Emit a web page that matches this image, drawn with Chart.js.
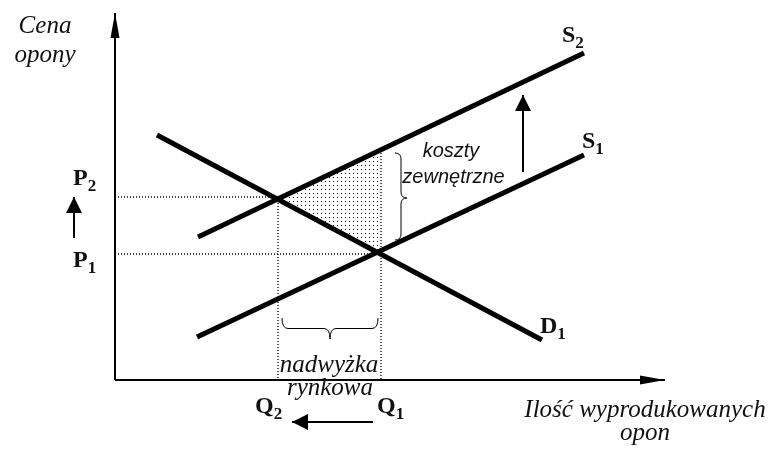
<!DOCTYPE html>
<html lang="pl">
<head>
<meta charset="utf-8">
<title>Koszty zewnętrzne – rynek opon</title>
<script src="https://cdn.jsdelivr.net/npm/chart.js@4/dist/chart.umd.min.js"></script>
<style>
  html, body { margin: 0; padding: 0; background: #fff; }
  #wrap { width: 771px; height: 450px; }
</style>
</head>
<body>
<div id="wrap"><canvas id="chart" width="771" height="450"></canvas></div>
<script>
// Curves (x = ilość opon, y = cena opony), end points
const demandD1 = [{ x: 4.2, y: 24.5 }, { x: 42.7, y: 4.0 }];
const supplyS1 = [{ x: 8.2, y: 4.3 }, { x: 46.9, y: 22.5 }];
const supplyS2 = [{ x: 8.3, y: 14.3 }, { x: 46.9, y: 32.7 }];

// Equilibrium levels: [P1, P2] and [Q1, Q2]
const priceLevels = [12.6, 18.3];
const quantityLevels = [26.6, 16.3];
const s2AtQ1 = 23.0;

// Axis lines
const xAxisLine = [{ x: 0, y: 0 }, { x: 55, y: 0 }];
const yAxisLine = [{ x: 0, y: 0 }, { x: 0, y: 36.7 }];

// Shift arrows: P1 -> P2, S1 -> S2, Q1 -> Q2
const shiftArrows = [
    [{ x: -4.1, y: 14.2 }, { x: -4.1, y: 18.3 }],
    [{ x: 40.8, y: 20.8 }, { x: 40.8, y: 28.5 }],
    [{ x: 25.8, y: -4.2 }, { x: 17.7, y: -4.2 }]
];

// Braces: [start, end, tip]
const costBrace = [{ x: 28.0, y: 22.7 }, { x: 28.0, y: 14.0 }, { x: 29.2, y: 18.2 }];
const surplusBrace = [{ x: 16.7, y: 6.2 }, { x: 26.3, y: 6.2 }, { x: 21.5, y: 4.1 }];

// Text labels
const curveLabels = [
    { main: 'S', sub: '2', x: 44.7, y: 33.8 },
    { main: 'S', sub: '1', x: 46.7, y: 23.2 },
    { main: 'D', sub: '1', x: 42.5, y: 4.7 },
    { main: 'P', sub: '2', x: -4.2, y: 19.5 },
    { main: 'P', sub: '1', x: -4.2, y: 11.3 },
    { main: 'Q', sub: '2', x: 14.0, y: -3.3 },
    { main: 'Q', sub: '1', x: 26.2, y: -3.3 }
];
const axisTitles = [
    { text: 'Cena', x: -7.0, y: 34.7 },
    { text: 'opony', x: -7.0, y: 31.8 },
    { text: 'Ilość wyprodukowanych', x: 53.0, y: -3.7 },
    { text: 'opon', x: 53.0, y: -6.0 },
    { text: 'nadwyżka', x: 21.4, y: 0.8 },
    { text: 'rynkowa', x: 21.5, y: -1.5 }
];
const noteLines = [
    { text: 'koszty', x: 33.6, y: 22.3 },
    { text: 'zewnętrzne', x: 33.85, y: 19.7 }
];

const INK = '#000';

function dotPattern() {
    const c = document.createElement('canvas');
    c.width = 4;
    c.height = 4;
    const g = c.getContext('2d');
    g.fillStyle = '#000';
    g.fillRect(1, 1, 1, 1);
    return g.createPattern(c, 'repeat');
}

function lineSet(points, width, dash) {
    return {
        data: points,
        showLine: true,
        borderColor: INK,
        borderWidth: width,
        borderDash: dash || [],
        pointRadius: 0,
        fill: false,
        clip: false
    };
}

const [p1, p2] = priceLevels;
const [q1, q2] = quantityLevels;

const datasets = [
    // shaded area between S2, D1 and Q1
    {
        data: [{ x: q2, y: p2 }, { x: q1, y: s2AtQ1 }, { x: q1, y: p1 }, { x: q2, y: p2 }],
        showLine: true,
        borderWidth: 0,
        borderColor: 'rgba(0,0,0,0)',
        backgroundColor: dotPattern(),
        fill: 'shape',
        pointRadius: 0,
        order: 10
    },
    lineSet([{ x: 0, y: p2 }, { x: q2, y: p2 }], 1.3, [1, 2]),
    lineSet([{ x: 0, y: p1 }, { x: q1, y: p1 }], 1.3, [1, 2]),
    lineSet([{ x: q2, y: p2 }, { x: q2, y: 0 }], 1.3, [1, 2]),
    lineSet([{ x: q1, y: s2AtQ1 }, { x: q1, y: 0 }], 1.3, [1, 2]),
    lineSet(xAxisLine, 2),
    lineSet(yAxisLine, 2),
    lineSet(demandD1, 5),
    lineSet(supplyS1, 5),
    lineSet(supplyS2, 5),
    ...shiftArrows.map(a => lineSet(a, 2))
];

// Arrow heads, braces and texts
const decorPlugin = {
    id: 'decor',
    afterDatasetsDraw(chart) {
        const ctx = chart.ctx;
        const sx = chart.scales.x;
        const sy = chart.scales.y;
        const px = p => ({ x: sx.getPixelForValue(p.x), y: sy.getPixelForValue(p.y) });

        const head = (from, to, len, half) => {
            const a = px(from);
            const b = px(to);
            const ang = Math.atan2(b.y - a.y, b.x - a.x);
            ctx.save();
            ctx.translate(b.x, b.y);
            ctx.rotate(ang);
            ctx.beginPath();
            ctx.moveTo(0, 0);
            ctx.lineTo(-len, -half);
            ctx.lineTo(-len, half);
            ctx.closePath();
            ctx.fillStyle = INK;
            ctx.fill();
            ctx.restore();
        };

        head(xAxisLine[0], xAxisLine[1], 25, 4.5);
        head(yAxisLine[0], yAxisLine[1], 25, 4.5);
        shiftArrows.forEach(a => head(a[0], a[1], 16, 8));

        // curly braces
        ctx.save();
        ctx.strokeStyle = INK;
        ctx.lineWidth = 1;
        const r = 6;
        {
            const s = px(costBrace[0]), e = px(costBrace[1]), t = px(costBrace[2]);
            const xm = (s.x + t.x) / 2;
            ctx.beginPath();
            ctx.moveTo(s.x, s.y);
            ctx.quadraticCurveTo(xm, s.y, xm, s.y + r);
            ctx.lineTo(xm, t.y - r);
            ctx.quadraticCurveTo(xm, t.y, t.x, t.y);
            ctx.quadraticCurveTo(xm, t.y, xm, t.y + r);
            ctx.lineTo(xm, e.y - r);
            ctx.quadraticCurveTo(xm, e.y, s.x, e.y);
            ctx.stroke();
        }
        {
            const s = px(surplusBrace[0]), e = px(surplusBrace[1]), t = px(surplusBrace[2]);
            const ym = (s.y + t.y) / 2;
            ctx.beginPath();
            ctx.moveTo(s.x, s.y);
            ctx.quadraticCurveTo(s.x, ym, s.x + r, ym);
            ctx.lineTo(t.x - r, ym);
            ctx.quadraticCurveTo(t.x, ym, t.x, t.y);
            ctx.quadraticCurveTo(t.x, ym, t.x + r, ym);
            ctx.lineTo(e.x - r, ym);
            ctx.quadraticCurveTo(e.x, ym, e.x, e.y);
            ctx.stroke();
        }
        ctx.restore();

        // texts
        ctx.save();
        ctx.fillStyle = '#111';
        ctx.textBaseline = 'alphabetic';
        ctx.textAlign = 'left';
        curveLabels.forEach(l => {
            const p = px(l);
            ctx.font = 'bold 24px "Liberation Serif"';
            ctx.fillText(l.main, p.x, p.y);
            const w = ctx.measureText(l.main).width;
            ctx.font = 'bold 17px "Liberation Serif"';
            ctx.fillText(l.sub, p.x + w, p.y + 6);
        });
        ctx.textAlign = 'center';
        ctx.font = 'italic 25px "Liberation Serif"';
        axisTitles.forEach(l => {
            const p = px(l);
            ctx.fillText(l.text, p.x, p.y);
        });
        ctx.font = 'italic 20px "Liberation Sans"';
        noteLines.forEach(l => {
            const p = px(l);
            ctx.fillText(l.text, p.x, p.y);
        });
        ctx.restore();
    }
};

new Chart(document.getElementById('chart'), {
    type: 'scatter',
    data: { datasets },
    options: {
        responsive: false,
        animation: false,
        devicePixelRatio: 1,
        layout: { padding: 0 },
        elements: { line: { tension: 0, borderCapStyle: 'butt' } },
        plugins: {
            legend: { display: false },
            tooltip: { enabled: false }
        },
        scales: {
            x: { type: 'linear', min: -11.5, max: 65.6, display: false },
            y: { type: 'linear', min: -7, max: 38, display: false }
        }
    },
    plugins: [decorPlugin]
});
</script>
</body>
</html>
